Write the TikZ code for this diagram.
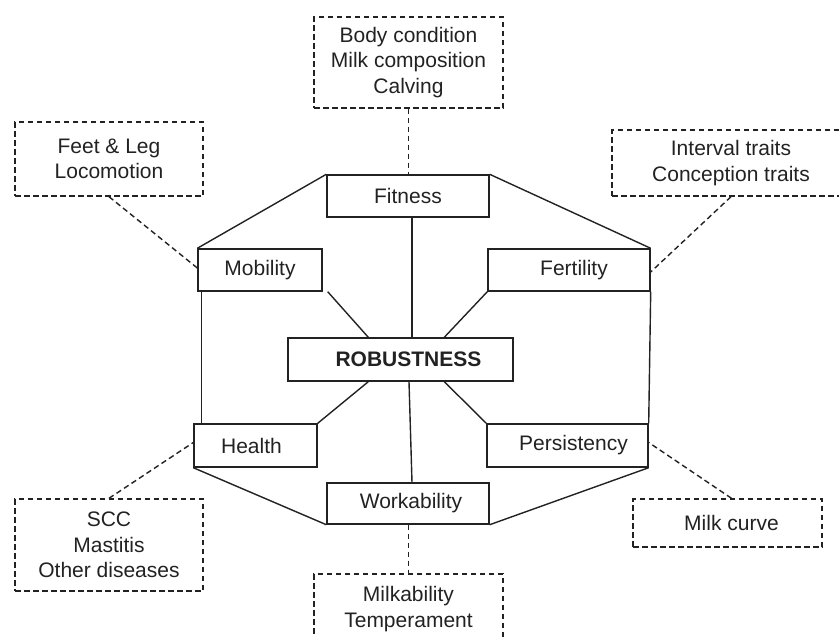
\documentclass[tikz,border=0pt]{standalone}
\usepackage{fontspec}
\setmainfont{Liberation Sans}
\definecolor{ink}{HTML}{222222}
\begin{document}
\begin{tikzpicture}[x=1pt,y=-1pt,
  txt/.style={inner sep=0pt, align=center, font=\fontsize{21}{25.5}\selectfont, text=ink},
  solidbox/.style={txt, draw=ink, line width=1.4pt, rectangle},
  dashbox/.style={solidbox, dash pattern=on 5.5pt off 3.5pt},
  link/.style={draw=ink, line width=1.4pt},
  dlink/.style={link, dash pattern=on 5.5pt off 3.5pt}]
\clip (0,0) rectangle (839,637);
% solid boxes
\node[solidbox, minimum width=162pt, minimum height=42pt] (fit) at (408,196) {Fitness};
\node[solidbox, minimum width=124pt, minimum height=42pt] (mob) at (260,270) {Mobility};
\node[solidbox, minimum width=162pt, minimum height=42pt] (fer) at (569,270) {\hspace*{10pt}Fertility};
\node[solidbox, minimum width=225pt, minimum height=43pt] (rob) at (400.5,359.5) {\hspace*{16pt}\textbf{ROBUSTNESS}};
\node[solidbox, minimum width=123pt, minimum height=43pt] (hea) at (255.5,445.5) {Health\hspace*{8pt}};
\node[solidbox, minimum width=161pt, minimum height=43pt] (per) at (567.5,445.5) {\hspace*{12pt}Persistency};
\node[solidbox, minimum width=162pt, minimum height=41pt] (wor) at (408,503.5) {\hspace*{6pt}Workability};
% dashed boxes
\node[dashbox, minimum width=189pt, minimum height=91pt] (top) at (408.5,62.5) {Body condition\\Milk composition\\Calving};
\node[dashbox, minimum width=188pt, minimum height=74pt] (feet) at (109,159) {Feet \& Leg\\Locomotion};
\node[dashbox, minimum width=238pt, minimum height=66pt] (int) at (731,163) {Interval traits\\Conception traits};
\node[dashbox, minimum width=188pt, minimum height=92pt] (scc) at (109,545) {SCC\\Mastitis\\Other diseases};
\node[dashbox, minimum width=189pt, minimum height=48pt] (milk) at (727.5,523) {\hspace*{8pt}Milk curve};
\node[dashbox, minimum width=189pt, minimum height=90pt] (mlk) at (408.5,619) {};
\node[txt] (mlkt) at (408.5,609) {Milkability\\Temperament};
% outer frame
\draw[link] (mob.north west) -- (fit.north west);
\draw[link] (fit.north east) -- (fer.north east);
\draw[link] ([xshift=4pt]mob.south west) -- ([xshift=4pt]mob.south west |- hea.north);
\draw[link] (fer.south east) -- (per.north east);
\draw[link] (hea.south west) -- (wor.south west);
\draw[link] (per.south east) -- (wor.south east);
% spokes
\draw[link] ([xshift=4pt]fit.south) -- ([xshift=4pt]fit.south |- rob.north);
\draw[link] ([xshift=8.5pt]rob.south) -- ([xshift=4pt]wor.north);
\draw[link] ([xshift=5pt]mob.south east) -- ([xshift=81pt]rob.north west);
\draw[link] (fer.south west) -- ([xshift=157pt]rob.north west);
\draw[link] (hea.north east) -- ([xshift=81pt]rob.south west);
\draw[link] (per.north west) -- ([xshift=157pt]rob.south west);
% dashed connectors
\draw[dlink] (top.south) -- (fit.north -| top.south);
\draw[dlink] (feet.south) -- ([yshift=2pt]mob.west);
\draw[dlink] (int.south) -- ([yshift=-2pt]fer.east);
\draw[dlink] (scc.north) -- ([yshift=3pt]hea.west);
\draw[dlink] ([xshift=4pt]milk.north) -- ([yshift=3pt]per.east);
\draw[dlink] (wor.south -| mlk.north) -- (mlk.north);
\end{tikzpicture}
\end{document}
